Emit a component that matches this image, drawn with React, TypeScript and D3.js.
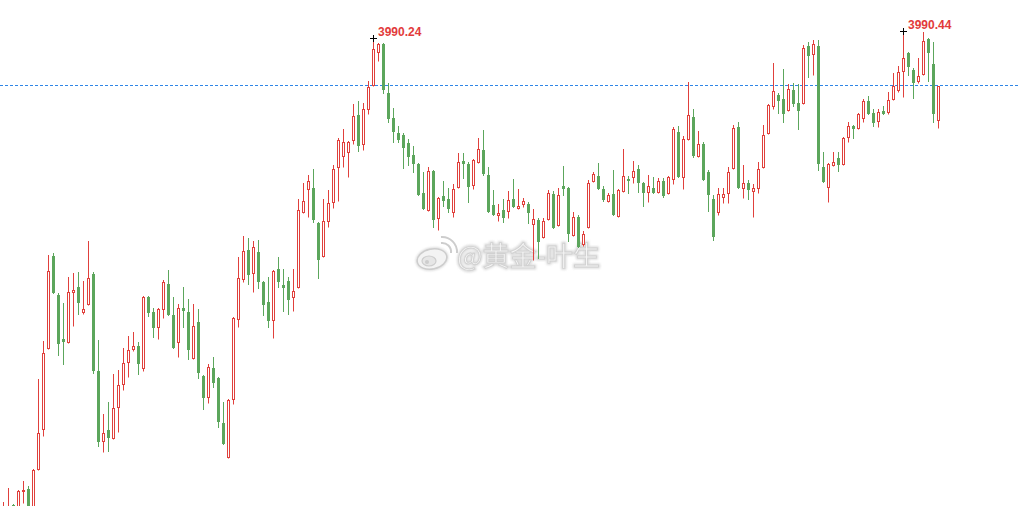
import React from "react";
import * as d3 from "d3";

const open = [
  3977.70, 3977.78, 3977.96, 3977.88, 3978.33, 3978.38, 3977.88, 3978.91, 3979.96, 3982.09,
  3984.51, 3983.49, 3982.33, 3982.25, 3983.57, 3983.70, 3983.04, 3983.25, 3984.04, 3981.49,
  3979.64, 3979.93, 3979.72, 3980.54, 3981.14, 3981.72, 3982.07, 3982.14, 3981.57, 3983.43,
  3983.04, 3982.64, 3983.12, 3983.78, 3982.96, 3982.25, 3983.14, 3983.04, 3981.83, 3982.78,
  3981.36, 3980.80, 3981.57, 3981.30, 3980.12, 3979.22, 3980.75, 3982.86, 3983.91, 3984.67,
  3984.07, 3984.62, 3983.83, 3983.30, 3982.83, 3984.17, 3983.75, 3983.86, 3983.43, 3983.70,
  3985.67, 3986.28, 3986.30, 3985.38, 3984.51, 3985.43, 3985.93, 3986.86, 3987.14, 3987.25,
  3987.57, 3988.22, 3987.46, 3988.38, 3989.01, 3989.88, 3990.09, 3988.80, 3988.14, 3987.75,
  3987.70, 3987.49, 3987.17, 3986.93, 3986.17, 3985.72, 3986.75, 3985.51, 3986.09, 3986.01,
  3985.67, 3986.33, 3987.01, 3986.93, 3986.38, 3986.99, 3987.30, 3986.64, 3985.86, 3985.59,
  3985.72, 3985.70, 3986.01, 3985.78, 3985.88, 3985.88, 3985.36, 3985.46, 3985.01, 3985.49,
  3986.14, 3985.33, 3986.36, 3986.30, 3985.07, 3985.54, 3984.83, 3985.28, 3986.49, 3986.62,
  3986.28, 3985.96, 3986.14, 3985.57, 3986.22, 3986.54, 3986.59, 3986.80, 3986.43, 3986.20,
  3986.30, 3986.20, 3986.49, 3986.17, 3986.54, 3987.78, 3986.59, 3987.59, 3988.17, 3987.14,
  3987.46, 3986.72, 3986.01, 3985.67, 3986.07, 3986.17, 3986.83, 3987.91, 3986.30, 3986.43,
  3986.22, 3986.30, 3986.86, 3987.75, 3988.46, 3988.75, 3988.64, 3988.36, 3988.88, 3988.54,
  3988.54, 3990.04, 3989.83, 3990.04, 3986.86, 3986.33, 3986.91, 3987.09, 3986.93, 3987.64,
  3987.93, 3987.88, 3988.14, 3988.59, 3988.28, 3988.07, 3988.33, 3988.30, 3988.64, 3988.88,
  3989.38, 3989.86, 3989.41, 3989.12, 3989.30, 3990.22, 3989.57, 3988.09,
];

const high = [
  3978.04, 3978.41, 3977.99, 3978.36, 3978.59, 3978.46, 3978.91, 3981.28, 3982.28, 3984.54,
  3984.59, 3983.54, 3983.28, 3983.96, 3984.07, 3984.09, 3983.86, 3984.91, 3984.09, 3982.30,
  3980.36, 3980.67, 3981.41, 3981.51, 3982.09, 3982.41, 3982.51, 3982.25, 3983.46, 3983.46,
  3983.14, 3983.14, 3983.88, 3984.14, 3983.43, 3983.25, 3983.70, 3983.38, 3983.25, 3983.12,
  3981.38, 3981.67, 3981.86, 3981.33, 3980.67, 3980.75, 3982.91, 3984.49, 3985.04, 3984.99,
  3984.91, 3984.93, 3983.86, 3983.96, 3984.14, 3984.49, 3984.17, 3983.96, 3984.17, 3986.01,
  3986.43, 3986.64, 3986.80, 3985.41, 3986.01, 3986.25, 3986.91, 3987.62, 3987.86, 3987.54,
  3988.51, 3988.59, 3988.54, 3989.12, 3990.24, 3990.12, 3990.12, 3989.07, 3988.41, 3987.93,
  3987.75, 3987.59, 3987.41, 3986.96, 3986.72, 3986.86, 3986.78, 3986.06, 3986.49, 3986.30,
  3986.41, 3987.22, 3987.22, 3986.99, 3987.07, 3987.62, 3987.83, 3986.86, 3986.25, 3985.88,
  3986.01, 3986.22, 3986.54, 3986.28, 3986.04, 3985.93, 3985.75, 3985.51, 3985.51, 3986.25,
  3986.22, 3986.30, 3986.88, 3986.32, 3985.67, 3985.59, 3985.17, 3986.51, 3986.72, 3986.96,
  3986.36, 3986.17, 3986.78, 3986.28, 3987.33, 3986.62, 3987.01, 3986.91, 3986.46, 3986.64,
  3986.59, 3986.57, 3986.57, 3986.62, 3987.91, 3987.93, 3987.67, 3989.09, 3988.38, 3987.80,
  3987.51, 3986.78, 3986.12, 3986.30, 3986.30, 3986.86, 3987.96, 3988.04, 3986.91, 3986.51,
  3986.41, 3986.99, 3987.96, 3988.51, 3989.59, 3988.80, 3989.43, 3989.04, 3989.07, 3989.04,
  3990.07, 3990.14, 3990.20, 3990.20, 3987.25, 3986.96, 3987.25, 3987.25, 3987.64, 3988.04,
  3987.95, 3988.28, 3988.64, 3988.72, 3988.38, 3988.38, 3988.46, 3988.83, 3989.33, 3989.51,
  3990.44, 3989.88, 3989.46, 3989.72, 3990.41, 3990.25, 3990.14, 3989.00,
];

const low = [
  3977.62, 3977.70, 3977.78, 3977.83, 3978.01, 3977.83, 3977.83, 3978.88, 3979.78, 3982.07,
  3983.55, 3981.91, 3981.67, 3982.23, 3982.67, 3982.99, 3982.99, 3983.23, 3981.43, 3979.51,
  3979.36, 3979.38, 3979.70, 3979.88, 3980.99, 3981.33, 3982.01, 3981.41, 3981.49, 3982.93,
  3982.38, 3982.33, 3982.88, 3982.97, 3982.10, 3981.86, 3982.64, 3981.80, 3981.81, 3981.30,
  3980.49, 3980.64, 3981.07, 3980.01, 3979.57, 3979.20, 3980.62, 3982.64, 3983.83, 3983.78,
  3983.57, 3983.67, 3982.96, 3982.64, 3982.36, 3983.70, 3983.07, 3982.99, 3983.07, 3983.68,
  3985.65, 3985.54, 3985.41, 3983.93, 3984.49, 3985.28, 3985.78, 3985.97, 3986.86, 3986.59,
  3987.46, 3987.28, 3987.30, 3988.25, 3988.99, 3989.64, 3988.80, 3988.04, 3987.51, 3987.51,
  3986.83, 3986.91, 3986.72, 3986.12, 3985.76, 3985.70, 3985.28, 3985.20, 3985.83, 3985.67,
  3985.54, 3986.31, 3986.57, 3985.93, 3986.28, 3986.97, 3986.64, 3985.68, 3985.60, 3985.43,
  3985.41, 3985.51, 3985.80, 3985.76, 3985.80, 3985.38, 3984.41, 3984.46, 3984.99, 3985.47,
  3985.26, 3985.31, 3986.12, 3984.91, 3985.05, 3984.76, 3984.78, 3985.26, 3986.46, 3986.28,
  3985.96, 3985.94, 3985.60, 3985.55, 3986.20, 3986.17, 3986.43, 3986.20, 3985.83, 3985.93,
  3986.18, 3986.18, 3986.07, 3986.14, 3986.41, 3986.60, 3986.28, 3987.57, 3987.12, 3987.12,
  3986.51, 3985.70, 3984.93, 3985.59, 3985.91, 3985.91, 3986.81, 3986.31, 3986.04, 3986.01,
  3985.54, 3986.17, 3986.84, 3987.72, 3988.38, 3988.28, 3988.04, 3988.34, 3988.46, 3987.86,
  3988.52, 3989.22, 3989.28, 3986.78, 3986.47, 3985.93, 3986.88, 3986.75, 3986.91, 3987.51,
  3987.62, 3987.86, 3988.04, 3988.26, 3987.93, 3987.91, 3988.25, 3988.25, 3988.62, 3988.83,
  3988.70, 3989.28, 3988.67, 3989.07, 3989.28, 3989.12, 3988.04, 3987.88,
];

const close = [
  3977.88, 3977.91, 3977.83, 3978.33, 3978.36, 3977.88, 3978.88, 3979.86, 3981.96, 3984.12,
  3983.57, 3982.22, 3982.28, 3983.57, 3983.62, 3983.30, 3983.12, 3983.93, 3981.51, 3979.64,
  3979.86, 3979.75, 3980.51, 3981.12, 3981.70, 3982.04, 3982.14, 3981.70, 3983.43, 3983.04,
  3982.64, 3983.12, 3983.83, 3982.99, 3982.12, 3983.14, 3983.09, 3982.07, 3982.67, 3981.46,
  3980.80, 3981.59, 3981.20, 3980.17, 3979.59, 3980.72, 3982.88, 3983.93, 3984.64, 3984.04,
  3984.75, 3983.86, 3983.25, 3982.83, 3984.12, 3983.86, 3983.70, 3983.38, 3983.59, 3985.72,
  3985.97, 3986.49, 3985.49, 3984.43, 3985.43, 3985.91, 3986.80, 3987.57, 3987.51, 3987.51,
  3988.20, 3987.43, 3988.38, 3988.96, 3989.96, 3990.09, 3988.91, 3988.14, 3987.80, 3987.59,
  3987.38, 3987.14, 3986.96, 3986.14, 3985.78, 3986.75, 3985.49, 3986.04, 3985.99, 3985.78,
  3986.28, 3986.99, 3986.96, 3986.36, 3987.04, 3987.33, 3986.70, 3985.70, 3985.62, 3985.64,
  3985.54, 3985.99, 3985.83, 3985.83, 3985.96, 3985.67, 3985.49, 3984.91, 3985.43, 3986.17,
  3985.28, 3986.12, 3986.30, 3985.12, 3985.54, 3984.78, 3985.09, 3986.43, 3986.67, 3986.30,
  3986.01, 3986.12, 3985.62, 3986.25, 3986.62, 3986.51, 3986.75, 3986.46, 3986.20, 3986.36,
  3986.20, 3986.49, 3986.12, 3986.59, 3987.86, 3986.62, 3987.59, 3988.22, 3987.17, 3987.46,
  3986.54, 3986.14, 3985.04, 3986.14, 3986.14, 3986.72, 3987.88, 3986.33, 3986.43, 3986.28,
  3986.30, 3986.80, 3987.70, 3988.49, 3988.86, 3988.62, 3988.28, 3988.91, 3988.54, 3988.36,
  3989.99, 3989.80, 3990.09, 3986.96, 3986.49, 3986.93, 3986.99, 3986.93, 3987.62, 3987.93,
  3987.88, 3988.25, 3988.59, 3988.28, 3988.04, 3988.30, 3988.28, 3988.62, 3988.99, 3989.36,
  3989.72, 3989.51, 3989.09, 3989.25, 3990.17, 3989.88, 3988.28, 3988.99,
];

const refPrice = 3989.0;
const markIndex = [74, 180];
const watermarkText = "@黄金-叶生";

const W = 1019;
const H = 506;
const UP = "#e0403c";
const DOWN = "#5ca65c";
const LABEL = "#e23b3b";

export default function App() {
  const n = open.length;
  const x = d3.scaleBand<number>().domain(d3.range(n)).range([1, 1 + 5 * n]);
  const topPrice = 3991.25;
  const pxPerUnit = 38;
  const y = d3.scaleLinear().domain([topPrice - H / pxPerUnit, topPrice]).range([H, 0]);
  const cx = (i: number) => Math.floor((x(i) as number) + x.bandwidth() / 2) + 0.5;
  const ry = (v: number) => Math.round(y(v));

  const candles = d3.range(n).map((i) => {
    const o = open[i], c = close[i], h = high[i], l = low[i];
    const up = c >= o;
    const X = cx(i);
    const yH = ry(h), yL = ry(l);
    const yT = ry(Math.max(o, c)), yB = ry(Math.min(o, c));
    if (up) {
      const hgt = Math.max(yB - yT, 1);
      return (
        <g key={i}>
          <line x1={X} x2={X} y1={yH} y2={yT} stroke={UP} strokeWidth={1} />
          <line x1={X} x2={X} y1={yT + hgt} y2={yL + 0.5} stroke={UP} strokeWidth={1} />
          <rect x={X - 1} y={yT + 0.5} width={2} height={hgt} fill="#fff" stroke={UP} strokeWidth={1} />
        </g>
      );
    }
    return (
      <g key={i}>
        <line x1={X} x2={X} y1={yH} y2={yL + 1} stroke={DOWN} strokeWidth={1} />
        <rect x={X - 1.5} y={yT} width={3} height={Math.max(yB - yT, 1) + 1} fill={DOWN} />
      </g>
    );
  });

  const refY = Math.floor(y(refPrice)) + 0.5;

  return (
    <svg
      width={W}
      height={H}
      style={{ position: "fixed", left: 0, top: 0, background: "#fff", display: "block" }}
    >
      <defs>
        <filter id="wmBlur" x="-10%" y="-20%" width="120%" height="140%">
          <feGaussianBlur stdDeviation="1.2" />
        </filter>
      </defs>
      <rect x={0} y={0} width={W} height={H} fill="#fff" />

      {/* watermark */}
      <g opacity={0.9}>
        <g fill="none" stroke="#d6d6d6" strokeWidth={3} filter="url(#wmBlur)">
          <ellipse cx={432} cy={259} rx={15} ry={10} transform="rotate(-12 432 259)" />
          <text x={457} y={266} fontSize={27} fontFamily="'Noto Sans CJK SC', sans-serif" stroke="#d6d6d6" strokeWidth={3}>
            {watermarkText}
          </text>
        </g>
        <g>
          <ellipse cx={432} cy={259} rx={15} ry={10} transform="rotate(-12 432 259)" fill="#f2f2f2" stroke="#c8c8c8" strokeWidth={1.5} />
          <ellipse cx={429} cy={261} rx={7} ry={5} fill="#e4e4e4" stroke="#c8c8c8" strokeWidth={1.2} />
          <circle cx={427} cy={262} r={2} fill="#c8c8c8" />
          <path d="M441,243 A9,9 0 0 1 451,253" fill="none" stroke="#c8c8c8" strokeWidth={2} />
          <path d="M441,237 A15,15 0 0 1 457,253" fill="none" stroke="#c8c8c8" strokeWidth={2} />
          <text x={457} y={266} fontSize={27} fontFamily="'Noto Sans CJK SC', sans-serif" fill="#f4f4f4" stroke="#cdcdcd" strokeWidth={0.9}>
            {watermarkText}
          </text>
        </g>
      </g>

      {/* reference line */}
      <line x1={0} x2={W} y1={refY} y2={refY} stroke="#2f86e6" strokeWidth={1} strokeDasharray="3,2" />

      {candles}

      {markIndex.map((i) => {
        const X = cx(i);
        const Y = ry(high[i]);
        return (
          <g key={"m" + i}>
            <line x1={X - 3.5} x2={X + 3.5} y1={Y + 0.5} y2={Y + 0.5} stroke="#000" strokeWidth={1} />
            <line x1={X} x2={X} y1={Y - 3} y2={Y + 4} stroke="#000" strokeWidth={1} />
            <text
              x={X + 4.5}
              y={Y - 2.5}
              fontSize={12}
              fontWeight="bold"
              fontFamily="Arial, 'Liberation Sans', sans-serif"
              fill={LABEL}
            >
              {high[i].toFixed(2)}
            </text>
          </g>
        );
      })}
    </svg>
  );
}
